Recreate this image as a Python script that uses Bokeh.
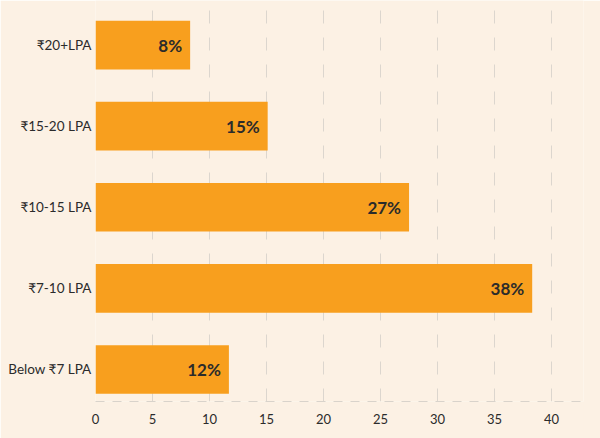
from bokeh.plotting import figure
from bokeh.models import ColumnDataSource, FixedTicker, Range1d, LabelSet
from bokeh.core.properties import value
from bokeh.embed import file_html
from bokeh.resources import INLINE

categories = ["Below ₹7 LPA", "₹7-10 LPA", "₹10-15 LPA", "₹15-20 LPA", "₹20+LPA"]
values = [11.7, 38.3, 27.5, 15.1, 8.3]
value_labels = ["12%", "38%", "27%", "15%", "8%"]
x_ticks = [0, 5, 10, 15, 20, 25, 30, 35, 40]

BG = "#FCF1E4"
BAR = "#F89F1E"
TXT = "#2b2b2b"

positions = list(range(len(categories)))
src = ColumnDataSource(dict(y=positions, v=values, lab=value_labels, cat=categories))

p = figure(width=600, height=438, output_backend="svg", toolbar_location=None,
           x_range=Range1d(0, 42.8), y_range=Range1d(-0.395, 4.55),
           min_border_left=95, min_border_right=17, min_border_top=0, min_border_bottom=37)
p.background_fill_color = BG
p.border_fill_color = BG
p.outline_line_color = None

p.hbar(y="y", right="v", left=0, height=0.6, source=src, fill_color=BAR, line_color=None)

labels = LabelSet(x="v", y="y", text="lab", source=src, x_offset=-8,
                  text_align="right", text_baseline="middle",
                  text_font=value("Lato"), text_font_size=value("17px"),
                  text_font_style=value("bold"), text_color=value(TXT))
p.add_layout(labels)

# x axis
p.xaxis.ticker = FixedTicker(ticks=x_ticks)
p.xaxis.major_tick_line_color = None
p.xaxis.minor_tick_line_color = None
p.xaxis.axis_line_color = "#d9d3cb"
p.xaxis.axis_line_dash = "9 8"
p.xaxis.major_label_text_font = "Lato"
p.xaxis.major_label_text_font_size = "13px"
p.xaxis.major_label_text_color = TXT
p.xaxis.major_label_standoff = 6

# y axis
p.yaxis.ticker = FixedTicker(ticks=positions)
p.yaxis.major_label_overrides = {i: c for i, c in zip(positions, categories)}
p.yaxis.major_tick_line_color = None
p.yaxis.minor_tick_line_color = None
p.yaxis.axis_line_color = None
p.yaxis.major_tick_out = 0
p.yaxis.major_label_standoff = 4
p.yaxis.major_label_text_font = "Lato"
p.yaxis.major_label_text_font_size = "13.5px"
p.yaxis.major_label_text_color = TXT

p.xgrid.grid_line_color = "#dcd6ce"
p.xgrid.grid_line_dash = "13 14"
p.ygrid.grid_line_color = None

open("out.html", "w").write(file_html(p, INLINE))
